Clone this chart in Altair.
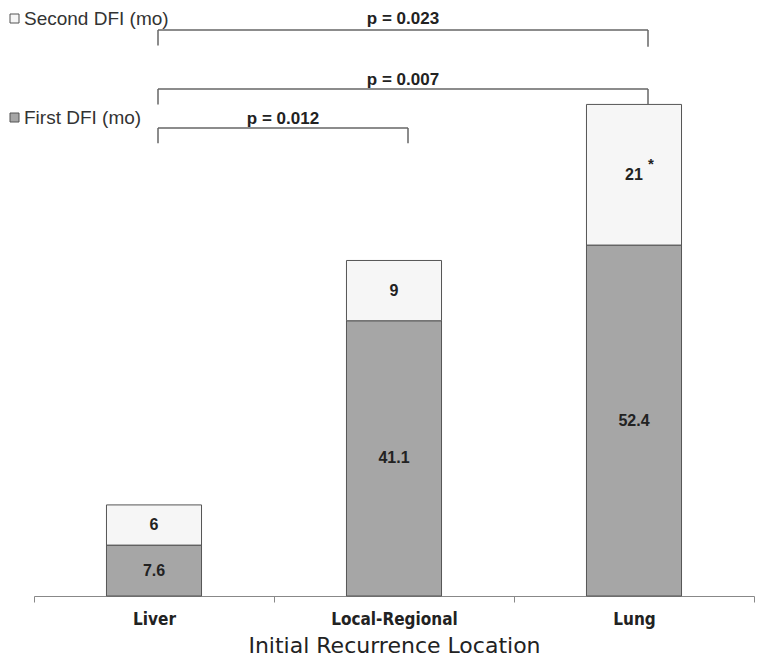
import altair as alt
import pandas as pd

# ---- data ----
locations = ["Liver", "Local-Regional", "Lung"]
first_dfi = [7.6, 41.1, 52.4]
second_dfi = [6, 9, 21]
first_labels = ["7.6", "41.1", "52.4"]
second_labels = ["6", "9", "21"]
second_marks = ["", "", "*"]
series = ["Second DFI (mo)", "First DFI (mo)"]

p_texts = ["p = 0.023", "p = 0.007", "p = 0.012"]
p_from = ["Liver", "Liver", "Liver"]
p_to = ["Lung", "Lung", "Local-Regional"]
p_level = [84.5, 75.7, 69.9]       # bracket bar height (mo scale)
p_drop_from = [82.2, 73.4, 67.6]   # lower end of left leg
p_drop_to = [82.0, 73.4, 67.6]     # lower end of right leg
p_text_level = [86.1, 77.0, 71.2]

# ---- tables ----
rows = []
for i, loc in enumerate(locations):
    y0 = 0.0
    for s, v, lab, st, o in [(series[1], first_dfi[i], first_labels[i], "", 0),
                             (series[0], second_dfi[i], second_labels[i], second_marks[i], 1)]:
        rows.append(dict(location=loc, series=s, value=v, label=lab, star=st, order=o,
                         y0=y0, y1=y0 + v, mid=y0 + v / 2))
        y0 += v
bars_df = pd.DataFrame(rows)
stars_df = bars_df[bars_df["star"] != ""]

br = []
for k in range(len(p_texts)):
    a = locations.index(p_from[k])
    b = locations.index(p_to[k])
    br.append(dict(text=p_texts[k], xa=a, xb=b, xm=(a + b) / 2,
                   y=p_level[k], ya=p_drop_from[k], yb=p_drop_to[k],
                   yt=p_text_level[k]))
br_df = pd.DataFrame(br)

FONT_N = "'DejaVu Sans Condensed', 'Liberation Sans', sans-serif"
FONT_T = "'DejaVu Sans', 'Liberation Sans', sans-serif"
FONT = "'Liberation Sans', Arial, sans-serif"
YMAX = 87.8

yscale = alt.Scale(domain=[0, YMAX], nice=False, zero=True)
xq = alt.Scale(domain=[-0.5, len(locations) - 0.5], nice=False, zero=False)
xb_scale = alt.Scale(domain=locations, paddingInner=0, paddingOuter=0)

xband = alt.X("location:N", scale=xb_scale, sort=locations,
              axis=alt.Axis(title="Initial Recurrence Location", labelAngle=0,
                            tickBand="extent", domainColor="#888", tickColor="#888",
                            tickSize=6, labelPadding=9, labelFont=FONT_N,
                            labelFontSize=17, labelFontWeight="bold", labelColor="#222",
                            titleFont=FONT_T, titleFontSize=22, titleFontWeight="normal",
                            titleColor="#222", titlePadding=8))

bars = alt.Chart(bars_df).mark_bar(stroke="#555", strokeWidth=1,
                                   width=alt.RelativeBandSize(0.396)).encode(
    x=xband,
    y=alt.Y("y0:Q", scale=yscale, axis=None),
    y2="y1:Q",
    color=alt.Color("series:N",
                    scale=alt.Scale(domain=series, range=["#f6f6f6", "#a6a6a6"]),
                    legend=alt.Legend(title=None, orient="none", legendX=-29, legendY=1,
                                      direction="vertical", symbolType="square",
                                      symbolSize=81, symbolStrokeColor="#555",
                                      symbolStrokeWidth=1, rowPadding=79,
                                      labelFont=FONT, labelFontSize=19,
                                      labelColor="#333", labelOffset=0,
                                      labelLimit=300)),
)

labels = alt.Chart(bars_df).mark_text(font=FONT, fontSize=16, fontWeight="bold", color="#222").encode(
    x=alt.X("location:N", scale=xb_scale, sort=locations, axis=None),
    y=alt.Y("mid:Q", scale=yscale, axis=None),
    text="label:N",
)

stars = alt.Chart(stars_df).mark_text(
    font=FONT, fontSize=15, fontWeight="bold", color="#222", dx=17, dy=-11
).encode(
    x=alt.X("location:N", scale=xb_scale, sort=locations, axis=None),
    y=alt.Y("mid:Q", scale=yscale, axis=None),
    text="star:N",
)

ann = alt.Chart(br_df)
hline = ann.mark_rule(color="#666", strokeWidth=1.5, xOffset=4, x2Offset=14).encode(
    x=alt.X("xa:Q", scale=xq, axis=None), x2="xb:Q",
    y=alt.Y("y:Q", scale=yscale, axis=None))
lleg = ann.mark_rule(color="#666", strokeWidth=1.5, xOffset=4).encode(
    x=alt.X("xa:Q", scale=xq, axis=None),
    y=alt.Y("y:Q", scale=yscale, axis=None), y2="ya:Q")
rleg = ann.mark_rule(color="#666", strokeWidth=1.5, xOffset=14).encode(
    x=alt.X("xb:Q", scale=xq, axis=None),
    y=alt.Y("y:Q", scale=yscale, axis=None), y2="yb:Q")
ptext = ann.mark_text(font=FONT, fontSize=17, fontWeight="bold", color="#222", xOffset=9).encode(
    x=alt.X("xm:Q", scale=xq, axis=None),
    y=alt.Y("yt:Q", scale=yscale, axis=None),
    text="text:N")

chart = alt.layer(bars, labels, stars, hline, lleg, rleg, ptext).resolve_scale(
    x="independent"
).properties(
    width=720, height=588,
    background="white",
    autosize=alt.AutoSizeParams(type="none"),
    padding={"left": 26, "top": 0, "right": 2, "bottom": 66},
).configure_view(stroke=None)

chart.save("out.html", embed_options={"renderer": "svg", "actions": False})
